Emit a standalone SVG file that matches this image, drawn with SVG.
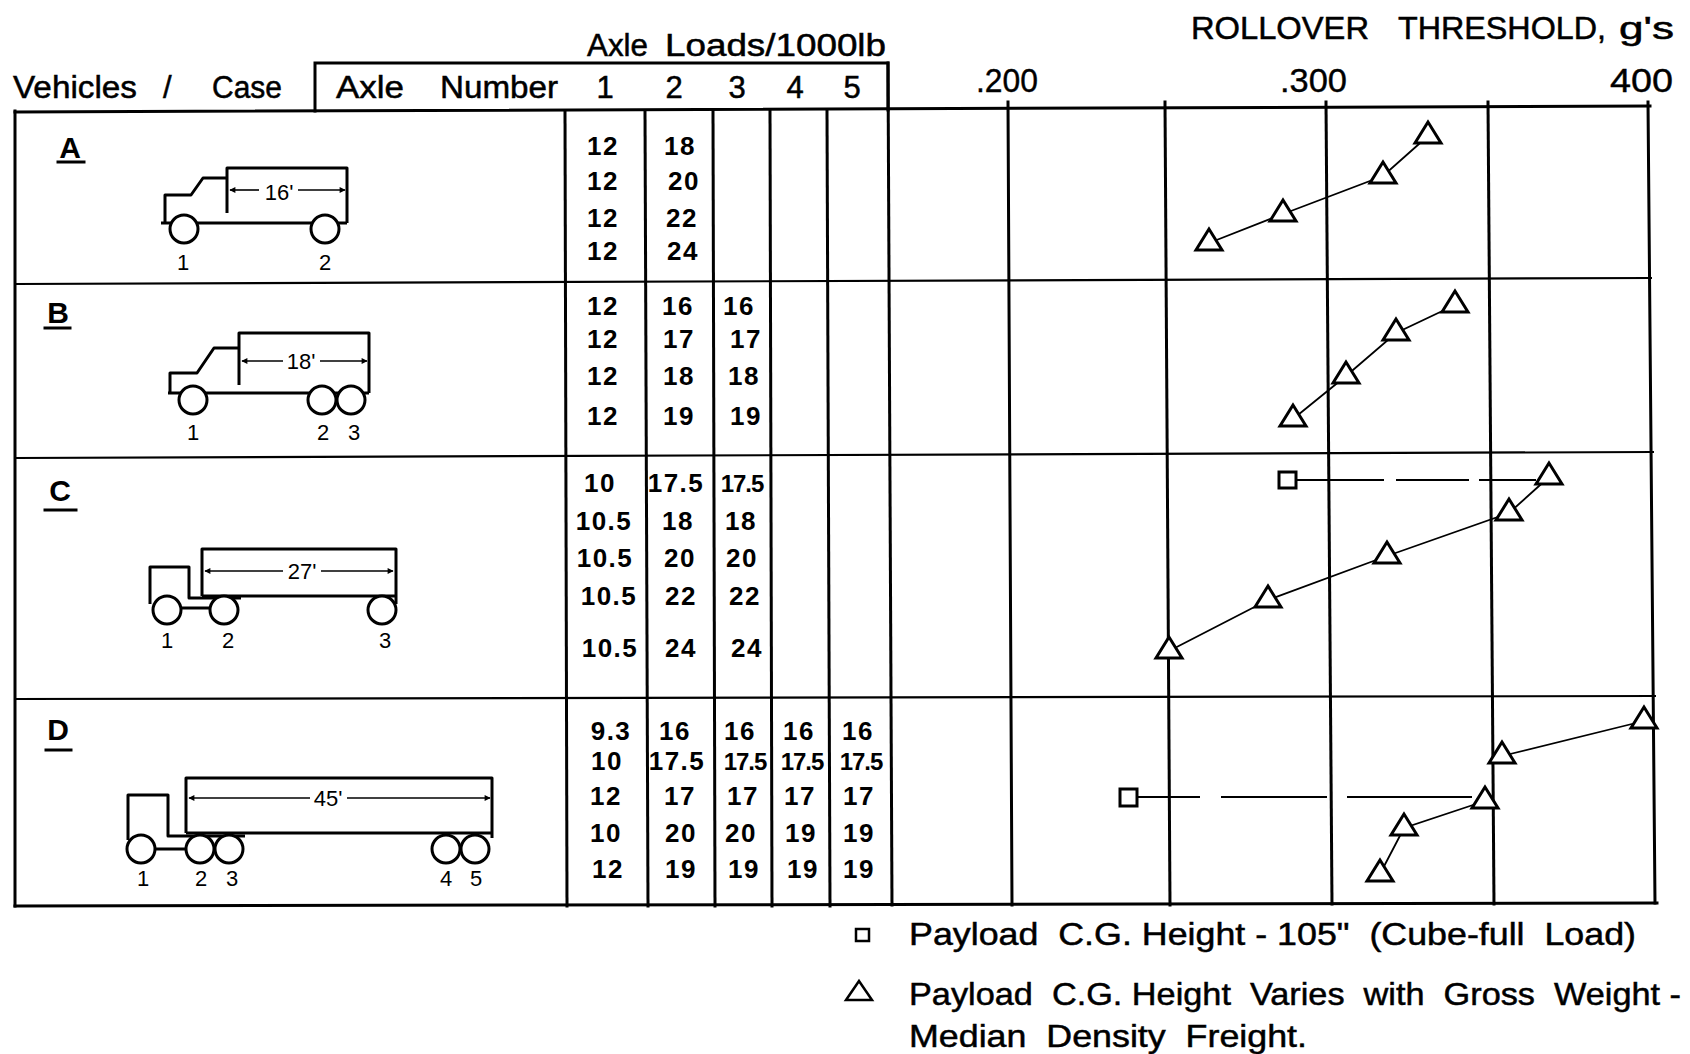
<svg xmlns="http://www.w3.org/2000/svg" width="1690" height="1054" viewBox="0 0 1690 1054">
<defs>
<style>
.ln{stroke:#000;stroke-width:3;fill:none;stroke-linecap:square}
.thin{stroke:#000;stroke-width:2.2;fill:none}
.veh{stroke:#000;stroke-width:3;fill:none;stroke-linejoin:round}
.wh{stroke:#000;stroke-width:3;fill:#fff}
.dim{stroke:#000;stroke-width:1.6;fill:none}
.hd{font-family:"Liberation Sans",Arial,sans-serif;font-size:31px;fill:#000;stroke:#000;stroke-width:0.5}
.num{font-family:"Liberation Sans",Arial,sans-serif;font-size:26px;font-weight:bold;fill:#000;text-anchor:middle;letter-spacing:1.5px}
.nt{font-size:24px;letter-spacing:-1px}
.lab{font-family:"Liberation Sans",Arial,sans-serif;font-size:22px;fill:#000;text-anchor:middle}
.case{font-family:"Liberation Sans",Arial,sans-serif;font-size:30px;font-weight:bold;fill:#000;text-anchor:middle}
.scl{font-family:"Liberation Sans",Arial,sans-serif;font-size:33px;fill:#000;stroke:#000;stroke-width:0.4}
.leg{font-family:"Liberation Sans",Arial,sans-serif;font-size:32px;fill:#000;stroke:#000;stroke-width:0.5;white-space:pre}
.tri{stroke:#000;stroke-width:3;fill:#fff;stroke-linejoin:miter}
.sq{stroke:#000;stroke-width:3;fill:#fff}
.dl{stroke:#000;stroke-width:1.8;fill:none}
</style>
<marker id="arL" viewBox="0 0 10 10" refX="1" refY="5" markerWidth="9" markerHeight="6" orient="auto" markerUnits="userSpaceOnUse"><path d="M10,0 L0,5 L10,10 z" fill="#000"/></marker>
<marker id="arR" viewBox="0 0 10 10" refX="9" refY="5" markerWidth="9" markerHeight="6" orient="auto" markerUnits="userSpaceOnUse"><path d="M0,0 L10,5 L0,10 z" fill="#000"/></marker>
<path id="t" d="M0,-14 L-13,7 L13,7 Z"/>
</defs>
<rect width="1690" height="1054" fill="#fff"/>

<g id="header">
<text class="hd" x="587" y="56" font-size="29" textLength="61" lengthAdjust="spacingAndGlyphs">Axle</text>
<text class="hd" x="665" y="56" font-size="29" textLength="221" lengthAdjust="spacingAndGlyphs">Loads/1000lb</text>
<text class="hd" x="13" y="98" textLength="124" lengthAdjust="spacingAndGlyphs">Vehicles</text>
<text class="hd" x="163" y="98">/</text>
<text class="hd" x="212" y="98" textLength="70" lengthAdjust="spacingAndGlyphs">Case</text>
<text class="hd" x="336" y="98" textLength="68" lengthAdjust="spacingAndGlyphs">Axle</text>
<text class="hd" x="440" y="98" textLength="118" lengthAdjust="spacingAndGlyphs">Number</text>
<text class="hd" x="605" y="98" text-anchor="middle">1</text>
<text class="hd" x="674" y="98" text-anchor="middle">2</text>
<text class="hd" x="737" y="98" text-anchor="middle">3</text>
<text class="hd" x="795" y="98" text-anchor="middle">4</text>
<text class="hd" x="852" y="98" text-anchor="middle">5</text>
<path class="ln" d="M315,111 V63 H888 V110"/>
<text class="hd" x="1191" y="39" font-size="32" textLength="178" lengthAdjust="spacingAndGlyphs">ROLLOVER</text>
<text class="hd" x="1398" y="39" font-size="32" textLength="208" lengthAdjust="spacingAndGlyphs">THRESHOLD,</text>
<text class="hd" x="1619" y="39" font-size="32" textLength="55" lengthAdjust="spacingAndGlyphs">g's</text>
<text class="scl" x="976" y="92" textLength="62" lengthAdjust="spacingAndGlyphs">.200</text>
<text class="scl" x="1280" y="92" textLength="67" lengthAdjust="spacingAndGlyphs">.300</text>
<text class="scl" x="1610" y="92" textLength="63" lengthAdjust="spacingAndGlyphs">400</text>
</g>

<g id="table-grid">
<line class="ln" x1="15" y1="112" x2="1650" y2="106"/>
<line class="thin" x1="15" y1="284" x2="1652" y2="278"/>
<line class="thin" x1="15" y1="458" x2="1654" y2="452"/>
<line class="thin" x1="15" y1="699" x2="1656" y2="696"/>
<line class="ln" x1="15" y1="906" x2="1657" y2="903"/>
<line class="ln" x1="15" y1="111" x2="15" y2="906"/>
<line class="ln" x1="565" y1="111" x2="567" y2="906"/>
<line class="ln" x1="645" y1="111" x2="648" y2="906"/>
<line class="ln" x1="713" y1="111" x2="715" y2="906"/>
<line class="ln" x1="770" y1="111" x2="772" y2="906"/>
<line class="ln" x1="827" y1="111" x2="830" y2="906"/>
<line class="ln" x1="888" y1="63" x2="892" y2="905"/>
</g>

<g id="chart-grid">
<line class="ln" x1="1008" y1="102" x2="1012" y2="905"/>
<line class="ln" x1="1165" y1="102" x2="1170" y2="905"/>
<line class="ln" x1="1326" y1="102" x2="1332" y2="904"/>
<line class="ln" x1="1488" y1="102" x2="1494" y2="904"/>
<line class="ln" x1="1648" y1="102" x2="1655" y2="903"/>
</g>

<g id="case-A">
<text class="case" x="70" y="158">A</text>
<line class="ln" x1="58" y1="162" x2="84" y2="162"/>
<path class="veh" d="M227,213 V168 H347 V223"/>
<path class="veh" d="M161,223 H347"/>
<path class="veh" d="M165,222 V195 H191 L203,178 H227"/>
<circle class="wh" cx="184" cy="229" r="14"/>
<circle class="wh" cx="325" cy="229" r="14"/>
<line class="dim" x1="230" y1="190" x2="259" y2="190" marker-start="url(#arL)"/>
<line class="dim" x1="298" y1="190" x2="345" y2="190" marker-end="url(#arR)"/>
<text class="lab" x="279" y="200">16'</text>
<text class="lab" x="183" y="270">1</text>
<text class="lab" x="325" y="270">2</text>
</g>

<g id="case-B">
<text class="case" x="58" y="323">B</text>
<line class="ln" x1="45" y1="328" x2="70" y2="328"/>
<path class="veh" d="M239,385 V333 H369 V393"/>
<path class="veh" d="M168,393 H369"/>
<path class="veh" d="M170,392 V373 H197 L214,348 H239"/>
<circle class="wh" cx="193" cy="400" r="14"/>
<circle class="wh" cx="322" cy="400" r="14"/>
<circle class="wh" cx="351" cy="400" r="14"/>
<line class="dim" x1="242" y1="361" x2="283" y2="361" marker-start="url(#arL)"/>
<line class="dim" x1="320" y1="361" x2="367" y2="361" marker-end="url(#arR)"/>
<text class="lab" x="301" y="369">18'</text>
<text class="lab" x="193" y="440">1</text>
<text class="lab" x="323" y="440">2</text>
<text class="lab" x="354" y="440">3</text>
</g>

<g id="case-C">
<text class="case" x="60" y="501">C</text>
<line class="ln" x1="45" y1="510" x2="76" y2="510"/>
<path class="veh" d="M202,596 V549 H396 V604"/>
<path class="veh" d="M202,596 H396"/>
<path class="veh" d="M150,604 V567 H189 V598 H241"/>
<path class="veh" d="M180,608 H212"/>
<circle class="wh" cx="167" cy="610" r="14"/>
<circle class="wh" cx="224" cy="610" r="14"/>
<circle class="wh" cx="382" cy="610" r="14"/>
<line class="dim" x1="205" y1="571" x2="283" y2="571" marker-start="url(#arL)"/>
<line class="dim" x1="321" y1="571" x2="393" y2="571" marker-end="url(#arR)"/>
<text class="lab" x="302" y="579">27'</text>
<text class="lab" x="167" y="648">1</text>
<text class="lab" x="228" y="648">2</text>
<text class="lab" x="385" y="648">3</text>
</g>

<g id="case-D">
<text class="case" x="58" y="740">D</text>
<line class="ln" x1="46" y1="750" x2="71" y2="750"/>
<path class="veh" d="M186,833 V778 H492 V838"/>
<path class="veh" d="M186,833 H492"/>
<path class="veh" d="M128,840 V795 H168 V836 H245"/>
<path class="veh" d="M154,849 H188"/>
<circle class="wh" cx="141" cy="849" r="14"/>
<circle class="wh" cx="200" cy="849" r="14"/>
<circle class="wh" cx="229" cy="849" r="14"/>
<circle class="wh" cx="446" cy="849" r="14"/>
<circle class="wh" cx="475" cy="849" r="14"/>
<line class="dim" x1="189" y1="798" x2="310" y2="798" marker-start="url(#arL)"/>
<line class="dim" x1="347" y1="798" x2="490" y2="798" marker-end="url(#arR)"/>
<text class="lab" x="328" y="806">45'</text>
<text class="lab" x="143" y="886">1</text>
<text class="lab" x="201" y="886">2</text>
<text class="lab" x="232" y="886">3</text>
<text class="lab" x="446" y="886">4</text>
<text class="lab" x="476" y="886">5</text>
</g>

<g id="loads-A">
<text class="num" x="603" y="155">12</text><text class="num" x="680" y="155">18</text>
<text class="num" x="603" y="190">12</text><text class="num" x="684" y="190">20</text>
<text class="num" x="603" y="227">12</text><text class="num" x="682" y="227">22</text>
<text class="num" x="603" y="260">12</text><text class="num" x="683" y="260">24</text>
</g>
<g id="loads-B">
<text class="num" x="603" y="315">12</text><text class="num" x="678" y="315">16</text><text class="num" x="739" y="315">16</text>
<text class="num" x="603" y="348">12</text><text class="num" x="679" y="348">17</text><text class="num" x="746" y="348">17</text>
<text class="num" x="603" y="385">12</text><text class="num" x="679" y="385">18</text><text class="num" x="744" y="385">18</text>
<text class="num" x="603" y="425">12</text><text class="num" x="679" y="425">19</text><text class="num" x="746" y="425">19</text>
</g>
<g id="loads-C">
<text class="num" x="600" y="492">10</text><text class="num" x="676" y="492" letter-spacing="0">17.5</text><text class="num nt" x="742" y="492">17.5</text>
<text class="num" x="604" y="530" letter-spacing="3">10.5</text><text class="num" x="678" y="530">18</text><text class="num" x="741" y="530">18</text>
<text class="num" x="605" y="567" letter-spacing="3">10.5</text><text class="num" x="680" y="567">20</text><text class="num" x="742" y="567">20</text>
<text class="num" x="609" y="605" letter-spacing="3">10.5</text><text class="num" x="681" y="605">22</text><text class="num" x="745" y="605">22</text>
<text class="num" x="610" y="657" letter-spacing="3">10.5</text><text class="num" x="681" y="657">24</text><text class="num" x="747" y="657">24</text>
</g>
<g id="loads-D">
<text class="num" x="611" y="740">9.3</text><text class="num" x="675" y="740">16</text><text class="num" x="740" y="740">16</text><text class="num" x="799" y="740">16</text><text class="num" x="858" y="740">16</text>
<text class="num" x="607" y="770">10</text><text class="num" x="677" y="770" letter-spacing="0">17.5</text><text class="num nt" x="745" y="770">17.5</text><text class="num nt" x="802" y="770">17.5</text><text class="num nt" x="861" y="770">17.5</text>
<text class="num" x="606" y="805">12</text><text class="num" x="680" y="805">17</text><text class="num" x="743" y="805">17</text><text class="num" x="800" y="805">17</text><text class="num" x="859" y="805">17</text>
<text class="num" x="606" y="842">10</text><text class="num" x="681" y="842">20</text><text class="num" x="741" y="842">20</text><text class="num" x="801" y="842">19</text><text class="num" x="859" y="842">19</text>
<text class="num" x="608" y="878">12</text><text class="num" x="681" y="878">19</text><text class="num" x="744" y="878">19</text><text class="num" x="803" y="878">19</text><text class="num" x="859" y="878">19</text>
</g>

<g id="connectors">
<polyline class="dl" points="1428,136 1383,176 1283,214 1209,243"/>
<polyline class="dl" points="1455,305 1396,333 1346,376 1293,419"/>
<polyline class="dl" points="1549,477 1509,513 1387,556 1268,600 1169,651"/>
<line class="dl" x1="1644" y1="721" x2="1502" y2="756"/>
<polyline class="dl" points="1485,801 1404,828 1380,874"/>
<path class="dl" d="M1297,480 H1384 M1396,480 H1469 M1479,480 H1536"/>
<path class="dl" d="M1137,797 H1200 M1221,797 H1327 M1347,797 H1472"/>
</g>

<g id="series-A">
<use href="#t" class="tri" x="1428" y="136"/>
<use href="#t" class="tri" x="1383" y="176"/>
<use href="#t" class="tri" x="1283" y="214"/>
<use href="#t" class="tri" x="1209" y="243"/>
</g>
<g id="series-B">
<use href="#t" class="tri" x="1455" y="305"/>
<use href="#t" class="tri" x="1396" y="333"/>
<use href="#t" class="tri" x="1346" y="376"/>
<use href="#t" class="tri" x="1293" y="419"/>
</g>
<g id="series-C">
<rect class="sq" x="1279" y="472" width="17" height="16"/>
<use href="#t" class="tri" x="1549" y="477"/>
<use href="#t" class="tri" x="1509" y="513"/>
<use href="#t" class="tri" x="1387" y="556"/>
<use href="#t" class="tri" x="1268" y="600"/>
<use href="#t" class="tri" x="1169" y="651"/>
</g>
<g id="series-D">
<rect class="sq" x="1120" y="789" width="17" height="17"/>
<use href="#t" class="tri" x="1644" y="721"/>
<use href="#t" class="tri" x="1502" y="756"/>
<use href="#t" class="tri" x="1485" y="801"/>
<use href="#t" class="tri" x="1404" y="828"/>
<use href="#t" class="tri" x="1380" y="874"/>
</g>

<g id="legend">
<rect x="856" y="929" width="13" height="12" fill="none" stroke="#000" stroke-width="2.5"/>
<text class="leg" x="909" y="945" textLength="727" lengthAdjust="spacingAndGlyphs" xml:space="preserve">Payload  C.G. Height - 105"  (Cube-full  Load)</text>
<path d="M859,981 L846,1000 L872,1000 Z" fill="none" stroke="#000" stroke-width="2.5"/>
<text class="leg" x="909" y="1005" textLength="772" lengthAdjust="spacingAndGlyphs" xml:space="preserve">Payload  C.G. Height  Varies  with  Gross  Weight -</text>
<text class="leg" x="909" y="1047" textLength="398" lengthAdjust="spacingAndGlyphs" xml:space="preserve">Median  Density  Freight.</text>
</g>
</svg>
